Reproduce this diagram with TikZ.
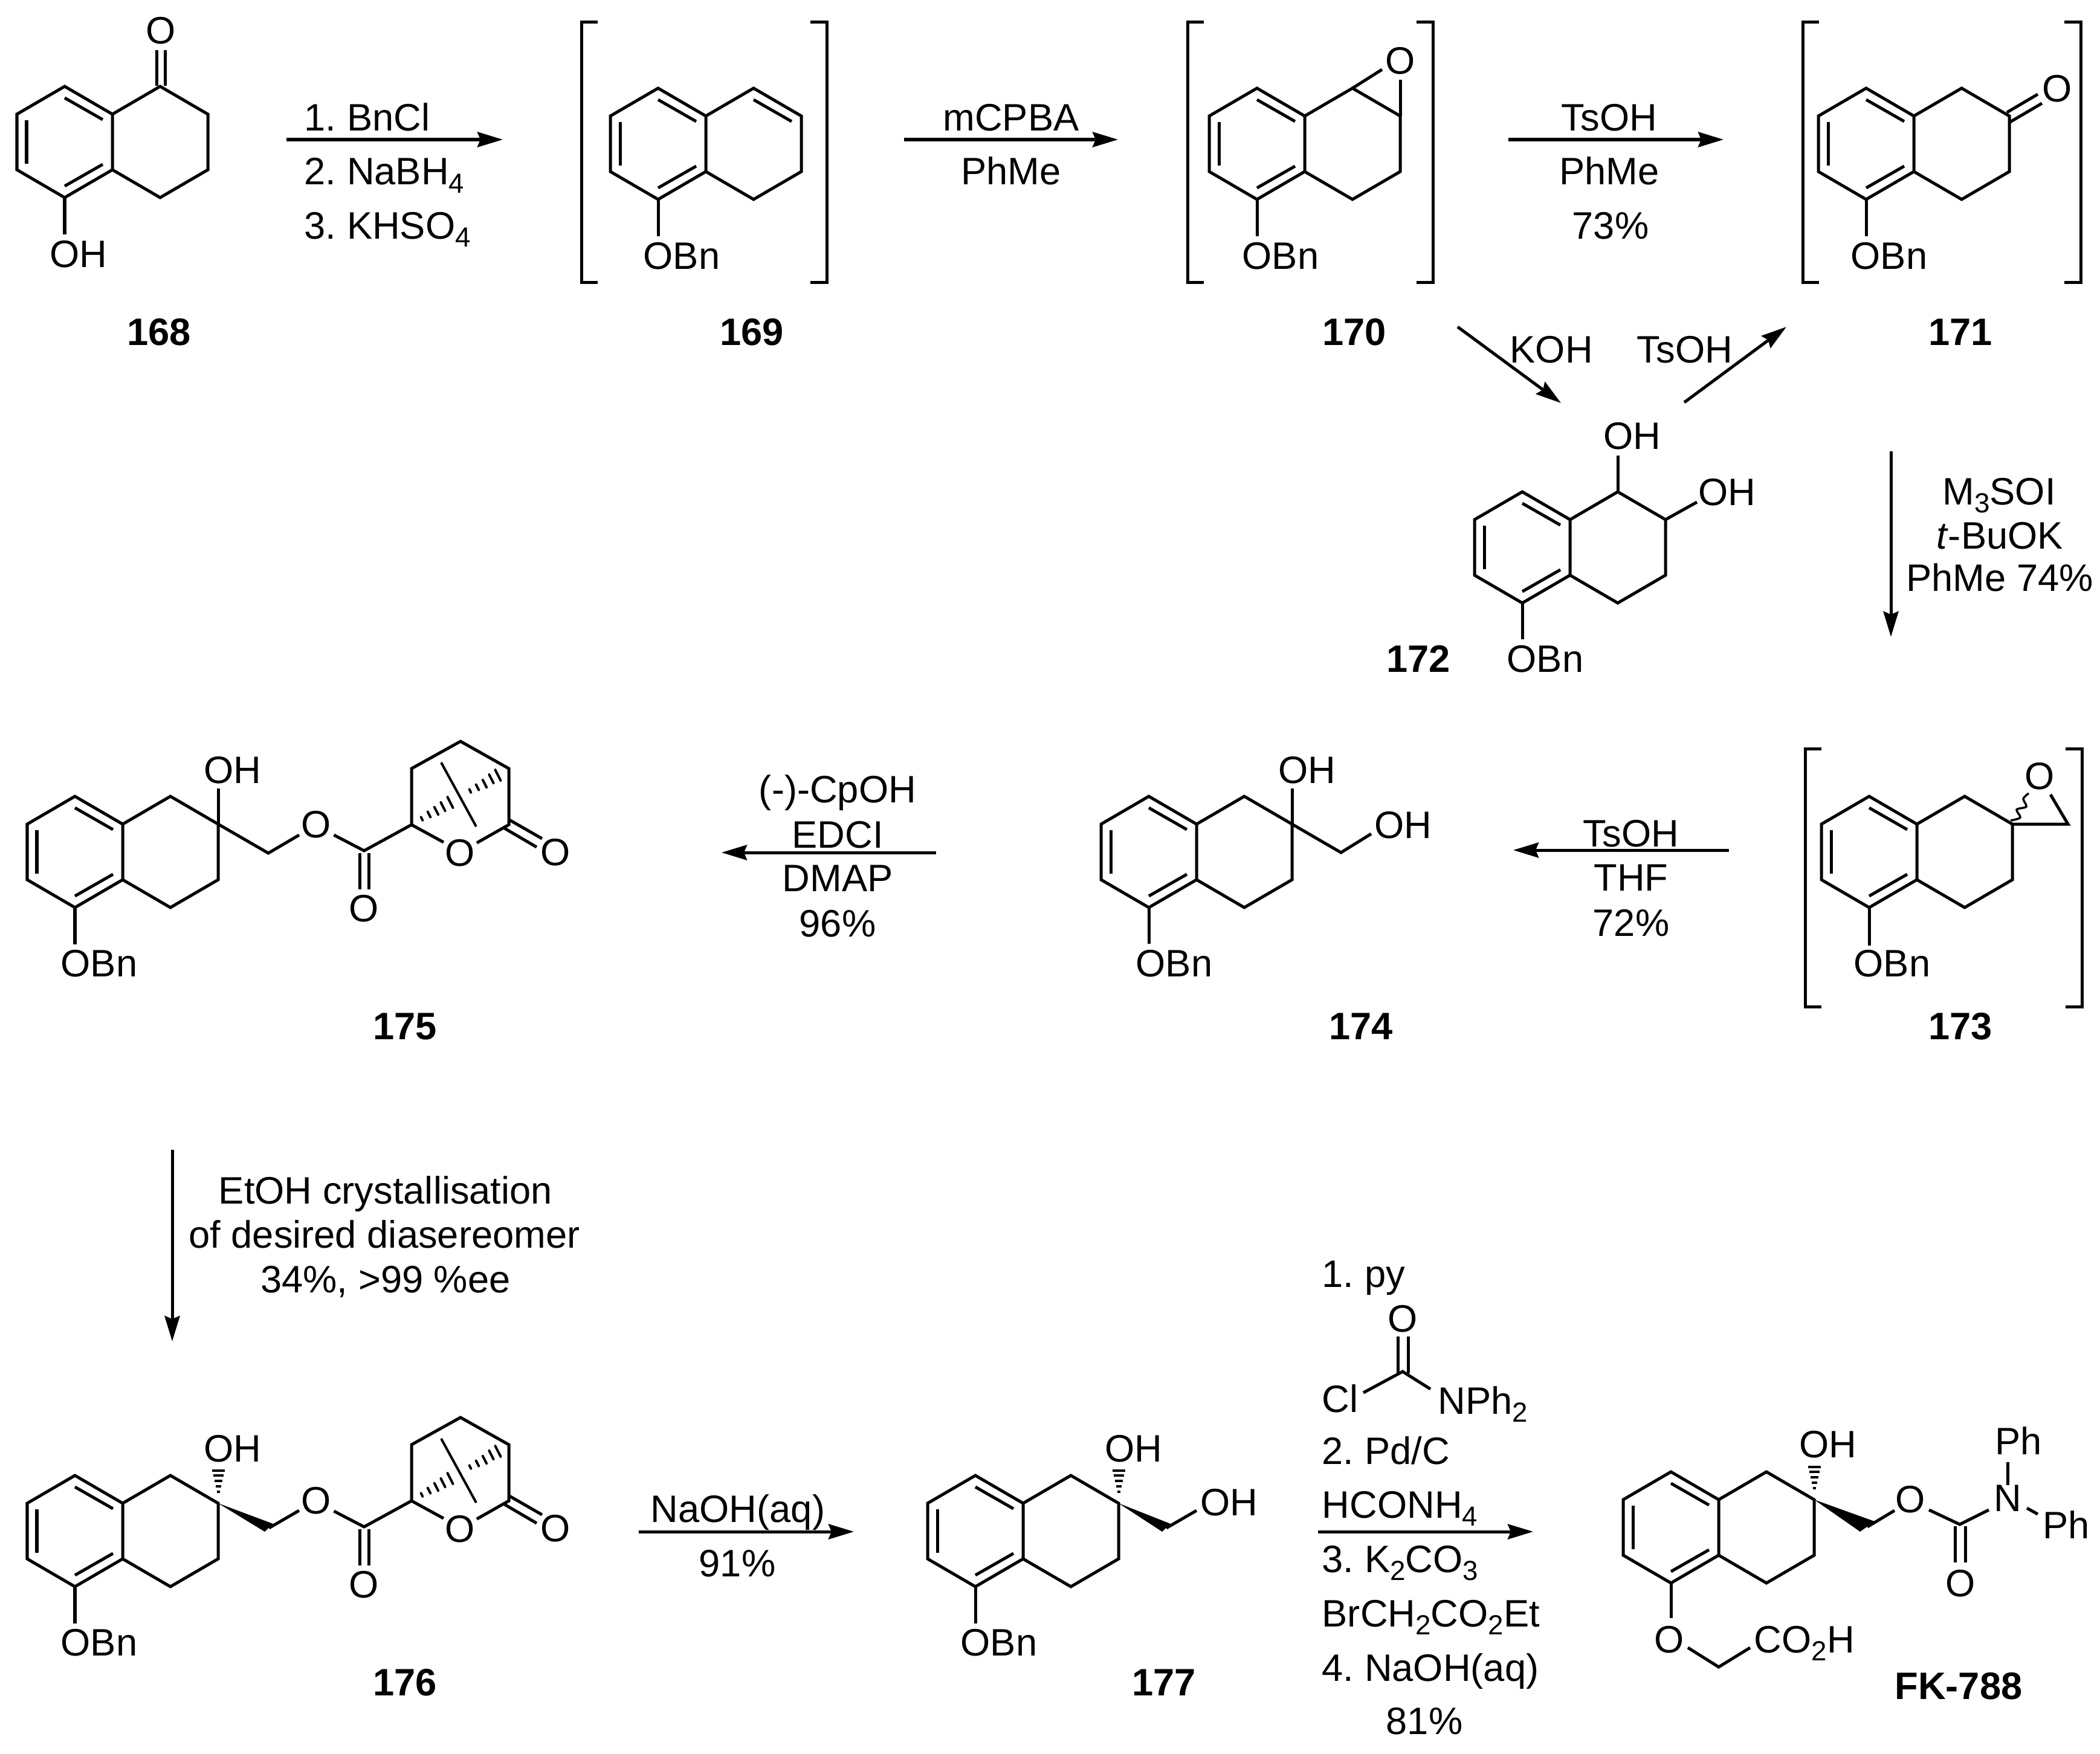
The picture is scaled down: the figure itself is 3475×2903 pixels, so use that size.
\documentclass[tikz,border=0pt]{standalone}
\usepackage{fontspec}
\setmainfont{Liberation Sans}
\usepackage{tikz}
\usetikzlibrary{
  arrows.meta
}
\newcommand{\chemsize}{\fontsize{18}{20}\selectfont\frenchspacing}
\newcommand{\chemsub}[1]{\raisebox{-0.13cm}{\fontsize{13}{15}\selectfont #1}}
\tikzset{
  bond/.style={line width=0.05cm, line join=miter},
  tetralin/.pic={
    \draw[bond] (-79,-92) -- (-158,-46) -- (-158,46) -- (-79,92) -- (0,46) -- (0,-46) -- cycle;
    \draw[bond] (0,-46) -- (79,-92) -- (158,-46) -- (158,46) -- (79,92) -- (0,46);
    \draw[bond] (-79,-73) -- (-16,-37);
    \draw[bond] (-79,73) -- (-16,37);
    \draw[bond] (-142,-36) -- (-142,36);
  },
  lactone/.pic={
    % ester arm and bridged ring, origin at the ring carbon
    \draw[bond] (-128.5,17) -- (-78.5,43) -- (0,0) -- (0,-93) -- (81,-138) -- (161,-93) -- (161,0) -- (108,30);
    \draw[bond] (0,0) -- (53,29);
    \draw[bond] (-86,47) -- (-86,107);
    \draw[bond] (-71,47) -- (-71,107);
    \draw[bond] (162,-8) -- (216,23);
    \draw[bond] (154,6) -- (207,37);
    \draw[line width=0.04cm] (49,-103) -- (107,3);
    \foreach \hx/\hy/\hl in {17/-10/3, 29/-17/5, 41/-23/7, 52/-30/8, 64/-37/10,
                             97/-56/3, 109/-62/5, 121/-68/7, 132/-76/8, 143/-82/10} {
      \draw[line width=0.04cm, line cap=round] ({\hx-0.45*\hl},{\hy-0.89*\hl}) -- ({\hx+0.45*\hl},{\hy+0.89*\hl});
    }
    \node[atm] (-oa) at (-157.5,0) {O};
    \node[atm] (-ob) at (-78.5,139) {O};
    \node[atm] (-oc) at (80.5,47) {O};
    \node[atm] (-od) at (238,46) {O};
  },
  hashup/.pic={
    \foreach \hy/\hl in {-54/10.5, -46/8.5, -37/6.5, -28/4.5, -19/2.5} {
      \draw[line width=0.045cm] (-\hl,\hy) -- (\hl,\hy);
    }
  }
}

\begin{document}
\begin{tikzpicture}[
  x=0.01cm, y=-0.01cm,
  every node/.style={font=\chemsize},
  atm/.style={inner sep=0pt},
  lab/.style={inner sep=0pt, anchor=base west, xshift=-0.03cm},
  ctr/.style={inner sep=0pt, anchor=base},
  cmpd/.style={inner sep=0pt, anchor=base, font=\chemsize\bfseries},
  ar/.style={-{Stealth[length=0.42cm,width=0.25cm,inset=0.05cm]}, line width=0.05cm}
]
  \path[use as bounding box] (0,0) rectangle (3475,2903);

  % brackets
  \foreach \bl/\br/\bt/\bb in {962/1368/37/467, 1965/2371/37/467, 2983/3443/37/467, 2987/3445/1239/1666} {
    \draw[bond] (\bl+27,\bt) -- (\bl,\bt) -- (\bl,\bb) -- (\bl+27,\bb);
    \draw[bond] (\br-27,\bt) -- (\br,\bt) -- (\br,\bb) -- (\br-27,\bb);
  }

  % 168
  \pic at (186,235) {tetralin};
  \draw[bond] (107,327) -- (107,388);
  \draw[bond] (259,142) -- (259,83);
  \draw[bond] (273,142) -- (273,83);
  \node[atm] (o168) at (266,51) {O};
  \node[lab] (oh168) at (85,442) {OH};
  \node[cmpd] (n168) at (263,571) {168};

  % 169
  \pic at (1168,238) {tetralin};
  \draw[bond] (1247,165) -- (1310,201);
  \draw[bond] (1089,330) -- (1089,391);
  \node[lab] (obn169) at (1067,445) {OBn};
  \node[cmpd] (n169) at (1244,571) {169};

  % 170
  \pic at (2159,238) {tetralin};
  \draw[bond] (2238,146) -- (2287,115);
  \draw[bond] (2317,192) -- (2317,132);
  \draw[bond] (2080,330) -- (2080,391);
  \node[atm] (o170) at (2317,101) {O};
  \node[lab] (obn170) at (2058,445) {OBn};
  \node[cmpd] (n170) at (2241,571) {170};

  % 171
  \pic at (3167,238) {tetralin};
  \draw[bond] (3321,186) -- (3372,156);
  \draw[bond] (3326,202) -- (3379,171);
  \draw[bond] (3088,330) -- (3088,391);
  \node[atm] (o171) at (3404,147) {O};
  \node[lab] (obn171) at (3065,445) {OBn};
  \node[cmpd] (n171) at (3244,571) {171};

  % 172
  \pic at (2598,906) {tetralin};
  \draw[bond] (2677,814) -- (2677,754);
  \draw[bond] (2756,860) -- (2808,831);
  \draw[bond] (2519,998) -- (2519,1058);
  \node[lab] (oha172) at (2656,743) {OH};
  \node[lab] (ohb172) at (2813,836) {OH};
  \node[lab] (obn172) at (2496,1112) {OBn};
  \node[cmpd] (n172) at (2347,1112) {172};

  % 173
  \pic at (3172,1410) {tetralin};
  \draw[bond] (3330,1364) -- (3422,1364) -- (3393,1315);
  \draw[line width=0.035cm] plot[smooth] coordinates {(3327,1358) (3343,1353) (3337,1340) (3353,1335) (3348,1322) (3357,1313)};
  \draw[bond] (3093,1502) -- (3093,1565);
  \node[atm] (o173) at (3375,1285) {O};
  \node[lab] (obn173) at (3070,1616) {OBn};
  \node[cmpd] (n173) at (3244,1720) {173};

  % 174
  \pic at (1980,1410) {tetralin};
  \draw[bond] (2138,1364) -- (2138,1305);
  \draw[bond] (2138,1364) -- (2219,1411) -- (2269,1380);
  \draw[bond] (1901,1502) -- (1901,1562);
  \node[lab] (oha174) at (2118,1296) {OH};
  \node[lab] (ohb174) at (2277,1387) {OH};
  \node[lab] (obn174) at (1882,1616) {OBn};
  \node[cmpd] (n174) at (2252,1720) {174};

  % 175
  \pic at (203,1410) {tetralin};
  \pic at (681,1365) {lactone};
  \draw[bond] (361,1364) -- (361,1305);
  \draw[bond] (361,1364) -- (444,1412) -- (495,1382);
  \draw[bond] (124,1502) -- (124,1563);
  \node[lab] (oh175) at (340,1296) {OH};
  \node[lab] (obn175) at (103,1616) {OBn};
  \node[cmpd] (n175) at (670,1720) {175};

  % 176
  \pic at (203,2534) {tetralin};
  \pic at (681,2484) {lactone};
  \pic at (361,2488) {hashup};
  \fill (361,2488) -- (438,2535) -- (452,2522) -- cycle;
  \draw[bond] (445,2529) -- (495,2500);
  \draw[bond] (124,2626) -- (124,2687);
  \node[lab] (oh176) at (340,2419) {OH};
  \node[lab] (obn176) at (103,2740) {OBn};
  \node[cmpd] (n176) at (670,2806) {176};

  % 177
  \pic at (1693,2534) {tetralin};
  \pic at (1851,2488) {hashup};
  \fill (1851,2488) -- (1923,2535) -- (1937,2522) -- cycle;
  \draw[bond] (1930,2529) -- (1980,2500);
  \draw[bond] (1614,2626) -- (1614,2687);
  \node[lab] (oha177) at (1831,2419) {OH};
  \node[lab] (ohb177) at (1989,2508) {OH};
  \node[lab] (obn177) at (1592,2740) {OBn};
  \node[cmpd] (n177) at (1926,2806) {177};

  % FK-788
  \pic at (2844,2528) {tetralin};
  \pic at (3002,2482) {hashup};
  \fill (3002,2482) -- (3078,2535) -- (3102,2518) -- cycle;
  \draw[bond] (3090,2527) -- (3135,2500);
  \draw[bond] (3192,2499) -- (3243,2523) -- (3291,2499);
  \draw[bond] (3235,2526) -- (3235,2586);
  \draw[bond] (3252,2526) -- (3252,2586);
  \draw[bond] (3322,2458) -- (3322,2420);
  \draw[bond] (3354,2496) -- (3372,2506);
  \draw[bond] (2765,2620) -- (2765,2678);
  \draw[bond] (2793,2727) -- (2844,2759) -- (2896,2727);
  \node[lab] (oh788) at (2980,2412) {OH};
  \node[atm] (oa788) at (3161,2482) {O};
  \node[atm] (ob788) at (3244,2621) {O};
  \node[atm] (n788) at (3322,2480) {N};
  \node[lab] (pha788) at (3304,2407) {Ph};
  \node[lab] (phb788) at (3383,2546) {Ph};
  \node[atm] (oc788) at (2762,2714) {O};
  \node[lab] (acid788) at (2905,2735) {CO\chemsub{2}H};
  \node[cmpd] (nfk) at (3241,2812) {FK-788};

  % reagents, top row
  \node[lab] (ra1) at (506,217) {1. BnCl};
  \node[lab] (ra2) at (506,306) {2. NaBH\chemsub{4}};
  \node[lab] (ra3) at (506,395) {3. KHSO\chemsub{4}};
  \node[ctr] (rb1) at (1673,217) {mCPBA};
  \node[ctr] (rb2) at (1673,306) {PhMe};
  \node[ctr] (rc1) at (2663,217) {TsOH};
  \node[ctr] (rc2) at (2663,306) {PhMe};
  \node[ctr] (rc3) at (2665,396) {73\%};
  \node[lab] (rd1) at (2501,600) {KOH};
  \node[lab] (re1) at (2711,600) {TsOH};
  \node[ctr] (rf1) at (3308,835) {M\chemsub{3}SOI};
  \node[ctr] (rf2) at (3309,908) {\textit{t}-BuOK};
  \node[ctr] (rf3) at (3309,978) {PhMe 74\%};

  % reagents, middle row
  \node[ctr] (rg1) at (2699,1401) {TsOH};
  \node[ctr] (rg2) at (2699,1474) {THF};
  \node[ctr] (rg3) at (2699,1549) {72\%};
  \node[ctr] (rh1) at (1386,1328) {(-)-CpOH};
  \node[ctr] (rh2) at (1386,1403) {EDCI};
  \node[ctr] (rh3) at (1386,1475) {DMAP};
  \node[ctr] (rh4) at (1386,1550) {96\%};
  \node[ctr] (ri1) at (638,1992) {EtOH crystallisation};
  \node[ctr] (ri2) at (636,2065) {of desired diasereomer};
  \node[ctr] (ri3) at (638,2139) {34\%, >99 \%ee};

  % reagents, bottom row
  \node[ctr] (rj1) at (1221,2519) {NaOH(aq)};
  \node[ctr] (rj2) at (1220,2609) {91\%};
  \node[lab] (rk1) at (2190,2130) {1. py};
  \node[atm] (rko) at (2321,2183) {O};
  \draw[bond] (2313,2212) -- (2313,2273);
  \draw[bond] (2330,2212) -- (2330,2273);
  \draw[bond] (2256,2305) -- (2321,2270) -- (2367,2299);
  \node[lab] (rkcl) at (2190,2337) {Cl};
  \node[lab] (rkn) at (2382,2340) {NPh\chemsub{2}};
  \node[lab] (rk2) at (2190,2423) {2. Pd/C};
  \node[lab] (rk3) at (2190,2512) {HCONH\chemsub{4}};
  \node[lab] (rk4) at (2190,2602) {3. K\chemsub{2}CO\chemsub{3}};
  \node[lab] (rk5) at (2190,2692) {BrCH\chemsub{2}CO\chemsub{2}Et};
  \node[lab] (rk6) at (2190,2782) {4. NaOH(aq)};
  \node[ctr] (rk7) at (2357,2870) {81\%};

  % arrows
  \coordinate (a1) at (474,231);
  \coordinate (b1) at (832,231);
  \coordinate (a2) at (1496,231);
  \coordinate (b2) at (1850,231);
  \coordinate (a3) at (2496,231);
  \coordinate (b3) at (2852,231);
  \coordinate (a4) at (2412,541);
  \coordinate (b4) at (2583,667);
  \coordinate (a5) at (2787,666);
  \coordinate (b5) at (2956,541);
  \coordinate (a6) at (3129,747);
  \coordinate (b6) at (3129,1054);
  \coordinate (a7) at (2861,1407);
  \coordinate (b7) at (2504,1407);
  \coordinate (a8) at (1549,1411);
  \coordinate (b8) at (1194,1411);
  \coordinate (a9) at (285,1903);
  \coordinate (b9) at (285,2220);
  \coordinate (a10) at (1057,2535);
  \coordinate (b10) at (1413,2535);
  \coordinate (a11) at (2181,2535);
  \coordinate (b11) at (2537,2535);
  \foreach \n in {1,...,11} {
    \draw[ar] (a\n) -- (b\n);
  }
\end{tikzpicture}
\end{document}
